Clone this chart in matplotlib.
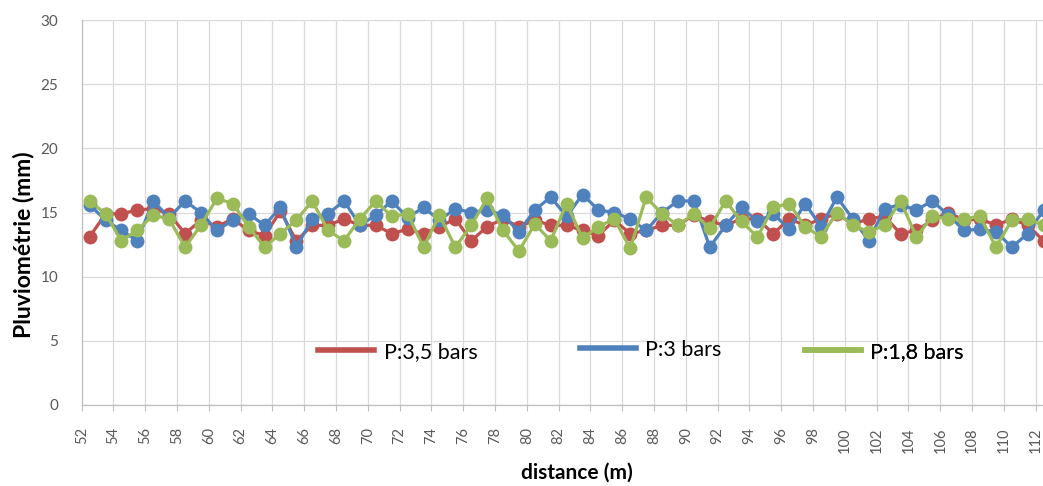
import matplotlib
matplotlib.use("Agg")
import matplotlib.pyplot as plt
from matplotlib.lines import Line2D
import numpy as np

distance = [52.5 + k for k in range(61)]

p35 = [13.1, 14.9, 14.9, 15.2, 15.3, 14.9, 13.35, 14.4, 13.9, 14.5,
       13.6, 13.2, 15.1, 12.8, 14.0, 14.0, 14.5, 14.0, 14.0, 13.35,
       13.7, 13.35, 13.9, 14.5, 12.8, 13.9, 14.5, 13.9, 14.4, 14.0,
       14.0, 13.6, 13.2, 14.4, 13.35, 13.6, 14.0, 14.0, 14.8, 14.3,
       14.0, 14.5, 14.5, 13.35, 14.5, 14.0, 14.5, 14.9, 14.1, 14.5,
       14.7, 13.35, 13.6, 14.4, 15.0, 14.4, 14.5, 14.0, 14.5, 14.0,
       12.8]

p3 = [15.6, 14.4, 13.6, 12.8, 15.9, 14.6, 15.9, 15.0, 13.6, 14.4,
      14.9, 14.0, 15.4, 12.3, 14.5, 14.9, 15.9, 14.0, 14.8, 15.9,
      14.6, 15.4, 14.4, 15.3, 15.0, 15.2, 14.8, 13.5, 15.2, 16.2,
      14.7, 16.4, 15.2, 15.0, 14.5, 13.6, 15.0, 15.9, 15.9, 12.3,
      14.0, 15.4, 14.3, 14.9, 13.7, 15.7, 13.9, 16.2, 14.5, 12.8,
      15.3, 15.6, 15.2, 15.9, 14.8, 13.6, 13.7, 13.5, 12.3, 13.35,
      15.2]

p18 = [15.9, 14.9, 12.8, 13.6, 14.8, 14.5, 12.3, 14.0, 16.1, 15.7,
       13.9, 12.3, 13.35, 14.4, 15.9, 13.6, 12.8, 14.5, 15.9, 14.7,
       14.9, 12.3, 14.8, 12.3, 14.0, 16.1, 13.6, 12.0, 14.1, 12.8,
       15.7, 13.0, 13.9, 14.5, 12.2, 16.2, 14.9, 14.0, 14.9, 13.8,
       15.9, 14.3, 13.1, 15.4, 15.7, 13.9, 13.1, 15.0, 14.0, 13.5,
       14.0, 15.9, 13.1, 14.7, 14.5, 14.5, 14.7, 12.3, 14.4, 14.5,
       14.0]

series_labels = ["P:3,5 bars", "P:3 bars", "P:1,8 bars"]
series_colors = ["#C0504D", "#4F81BD", "#9BBB59"]
x_ticks = list(range(52, 113, 2))
y_ticks = [0, 5, 10, 15, 20, 25, 30]

plt.rcParams['font.family'] = ['Lato', 'DejaVu Sans']

fig = plt.figure(figsize=(10.43, 4.86), dpi=100)
ax = fig.add_axes([0.0783, 0.1667, 0.9217, 0.7921])

for vals, col in zip([p35, p3, p18], series_colors):
    ax.plot(distance, vals, color=col, lw=2.3, marker='o', markersize=10,
            markeredgewidth=0, zorder=3)

ax.set_xlim(52, 112.46)
ax.set_ylim(0, 30)
ax.set_xticks(x_ticks)
ax.set_xticklabels([str(t) for t in x_ticks], rotation=90, fontsize=10.5,
                   color='#595959')
ax.set_yticks(y_ticks)
ax.set_yticklabels([str(t) for t in y_ticks], fontsize=11, color='#595959')
ax.tick_params(axis='y', length=0, pad=17)
ax.tick_params(axis='x', length=4, width=0.8, color='#BFBFBF', pad=12,
               direction='out')
ax.grid(True, color='#D9D9D9', lw=0.9, zorder=0)
for s in ['top', 'right']:
    ax.spines[s].set_visible(False)
for s in ['left', 'bottom']:
    ax.spines[s].set_color('#BFBFBF')
    ax.spines[s].set_linewidth(0.9)

ax.set_ylabel("Pluviométrie (mm)", fontsize=16.5, fontweight='bold',
              color='black')
ax.yaxis.set_label_coords(-0.0496, 0.416)
ax.set_xlabel("distance (m)", fontsize=15, fontweight='bold', color='black',
              labelpad=7)
ax.xaxis.label.set_x(0.515)

positions = [(0.2458, 0.138), (0.518, 0.143), (0.752, 0.138)]
for lab, col, pos in zip(series_labels, series_colors, positions):
    h = Line2D([], [], color=col, lw=4)
    lg = ax.legend([h], [lab], loc='center left', bbox_to_anchor=pos,
                   frameon=False, fontsize=15.5, handlelength=2.6,
                   handletextpad=0.45, borderaxespad=0, borderpad=0)
    ax.add_artist(lg)

fig.savefig("out.png", dpi=100)
